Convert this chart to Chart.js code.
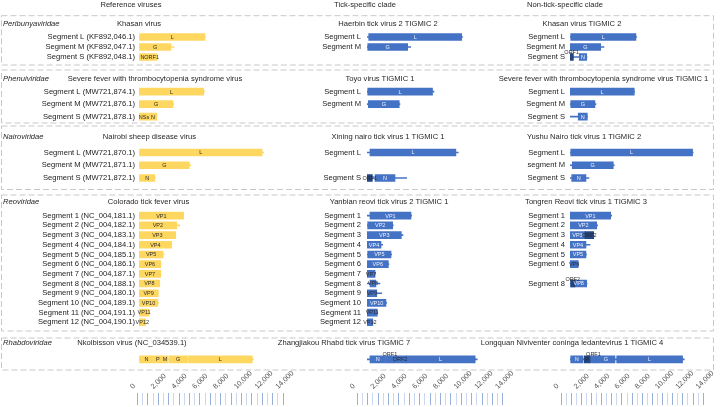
<!DOCTYPE html>
<html>
<head>
<meta charset="utf-8">
<title>Genome organisation of reference and TIGMIC viruses</title>
<script src="https://cdn.jsdelivr.net/npm/chart.js@4.4.1/dist/chart.umd.min.js"></script>
<style>
  html, body { margin: 0; padding: 0; background: #ffffff; }
  #stage { position: relative; width: 721px; height: 407px; overflow: hidden; font-family: 'Liberation Sans', Arial, sans-serif; color: #262626; }
  #stage canvas, #stage svg { position: absolute; left: 0; top: 0; }
  .lbl { position: absolute; white-space: nowrap; font-size: 7.6px; line-height: 1; transform: translate(-50%, -50%); }
  .fam { position: absolute; white-space: nowrap; font-size: 7.6px; line-height: 1; font-style: italic; transform: translateY(-50%); }
</style>
</head>
<body>
<div id="stage">
  <svg id="frames" width="721" height="407"></svg>
  <canvas id="col0" width="721" height="407"></canvas>
  <canvas id="col1" width="721" height="407"></canvas>
  <canvas id="col2" width="721" height="407"></canvas>
  <canvas id="axis0" width="721" height="407"></canvas>
  <canvas id="axis1" width="721" height="407"></canvas>
  <canvas id="axis2" width="721" height="407"></canvas>
</div>
<script>
// ================= DATA =================
const columnHeaders = ['Reference viruses', 'Tick-specific clade', 'Non-tick-specific clade'];
const families = ['Peribunyaviridae', 'Phenuiviridae', 'Nairoviridae', 'Reoviridae', 'Rhabdoviridae'];
const referenceViruses = ['Khasan virus', 'Severe fever with thrombocytopenia syndrome virus', 'Nairobi sheep disease virus', 'Colorado tick fever virus', 'Nkolbisson virus (NC_034539.1)'];
const tickCladeViruses = ['Haerbin tick virus 2 TIGMIC 2', 'Toyo virus TIGMIC 1', 'Xining nairo tick virus 1 TIGMIC 1', 'Yanbian reovi tick virus 2 TIGMIC 1', 'Zhangjiakou Rhabd tick virus TIGMIC 7'];
const nonTickCladeViruses = ['Khasan virus TIGMIC 2', 'Severe fever with thrombocytopenia syndrome virus TIGMIC 1', 'Yushu Nairo tick virus 1 TIGMIC 2', 'Tongren Reovi tick virus 1 TIGMIC 3', 'Longquan Niviventer coninga ledantevirus 1 TIGMIC 4'];
const axisTickLabels = [0, 2000, 4000, 6000, 8000, 10000, 12000, 14000];
const axisMinorStep = 500;
const axisMax = 14000;

// segment: [row slot, label, segment length (nt), ORFs [name, start, end, kind]]
// kind: 0 ORF, 1 overlapping ORF, 2 overlapping ORF labelled above, 3 ORF labelled above
const refPeribunya = [
  [0, 'Segment L (KF892,046.1)', 6450, [['L', 60, 6400]]],
  [1, 'Segment M (KF892,047.1)', 3400, [['G', 50, 3100]]],
  [2, 'Segment S (KF892,048.1)', 1800, [['N', 30, 650], ['ORF1', 700, 1750]]]
];
const refPhenui = [
  [0, 'Segment L (MW721,874.1)', 6368, [['L', 20, 6280]]],
  [1, 'Segment M (MW721,876.1)', 3378, [['G', 20, 3300]]],
  [2, 'Segment S (MW721,878.1)', 1744, [['NSs', 30, 930], ['N', 990, 1730]]]
];
const refNairo = [
  [0, 'Segment L (MW721,870.1)', 12100, [['L', 50, 11950]]],
  [1, 'Segment M (MW721,871.1)', 5020, [['G', 50, 4880]]],
  [2, 'Segment S (MW721,872.1)', 1590, [['N', 50, 1530]]]
];
const refReo = [
  [0, 'Segment 1 (NC_004,181.1)', 4350, [['VP1', 10, 4330]]],
  [1, 'Segment 2 (NC_004,182.1)', 3950, [['VP2', 10, 3660]]],
  [2, 'Segment 3 (NC_004,183.1)', 3586, [['VP3', 10, 3560]]],
  [3, 'Segment 4 (NC_004,184.1)', 3190, [['VP4', 10, 3160]]],
  [4, 'Segment 5 (NC_004,185.1)', 2432, [['VP5', 10, 2340]]],
  [5, 'Segment 6 (NC_004,186.1)', 2141, [['VP6', 10, 2110]]],
  [6, 'Segment 7 (NC_004,187.1)', 2133, [['VP7', 10, 2110]]],
  [7, 'Segment 8 (NC_004,188.1)', 2029, [['VP8', 10, 2010]]],
  [8, 'Segment 9 (NC_004,180.1)', 1884, [['VP9', 10, 1860]]],
  [9, 'Segment 10 (NC_004,189.1)', 1884, [['VP10', 10, 1830]]],
  [10, 'Segment 11 (NC_004,191.1)', 998, [['VP11', 10, 980]]],
  [11, 'Segment 12 (NC_004,190.1)', 675, [['VP12', 10, 640]]]
];
const refRhabdo = [
  [0, '', 11100, [['N', 50, 1400], ['P', 1450, 2200], ['M', 2250, 2800], ['G', 2900, 4700], ['L', 4800, 11000]]]
];

const tickPeribunya = [
  [0, 'Segment L', 9280, [['L', 165, 9190]]],
  [1, 'Segment M', 4240, [['G', 70, 3950]]]
];
const tickPhenui = [
  [0, 'Segment L', 6500, [['L', 70, 6360]]],
  [1, 'Segment M', 3200, [['G', 126, 3130]]]
];
const tickNairo = [
  [0, 'Segment L', 8860, [['L', 290, 8630]]],
  [2, 'Segment S', 3850, [['N', 780, 2720], ['ORF1', 20, 520, 1]]]
];
const tickReo = [
  [0, 'Segment 1', 4340, [['VP1', 290, 4270]]],
  [1, 'Segment 2', 2550, [['VP2', 65, 2490]]],
  [2, 'Segment 3', 3490, [['VP3', 30, 3330]]],
  [3, 'Segment 4', 1520, [['VP4', 0, 1360]]],
  [4, 'Segment 5', 2400, [['VP5', 65, 2330]]],
  [5, 'Segment 6', 2130, [['VP6', 30, 2070]]],
  [6, 'Segment 7', 800, [['VP7', 0, 780]]],
  [7, 'Segment 8', 1260, [['VP8', 290, 870]]],
  [8, 'Segment 9', 1430, [['VP9', 0, 950]]],
  [9, 'Segment 10', 1900, [['VP10', 30, 1840]]],
  [10, 'Segment 11', 1030, [['VP11', 0, 1000]]],
  [11, 'Segment 12', 600, [['VP12', 0, 560]]]
];
const tickRhabdo = [
  [0, '', 10700, [['N', 290, 1800], ['ORF1', 1850, 2600, 3], ['ORF2', 2600, 3800], ['L', 3800, 10500]]]
];

const nonTickPeribunya = [
  [0, 'Segment L', 6470, [['L', 70, 6400]]],
  [1, 'Segment M', 3300, [['G', 0, 2980]]],
  [2, 'Segment S', 1650, [['N', 900, 1620], ['ORF1', 0, 330, 2]]]
];
const nonTickPhenui = [
  [0, 'Segment L', 6270, [['L', 0, 6240]]],
  [1, 'Segment M', 2520, [['G', 70, 2420]]],
  [2, 'Segment S', 1700, [['N', 800, 1680]]]
];
const nonTickNairo = [
  [0, 'Segment L', 11960, [['L', 70, 11900]]],
  [1, 'segment M', 4300, [['G', 220, 4200]]],
  [2, 'Segment S', 1840, [['N', 165, 1550]]]
];
const nonTickReo = [
  [0, 'Segment 1', 4050, [['VP1', 0, 3950]]],
  [1, 'Segment 2', 2680, [['VP2', 0, 2590]]],
  [2, 'Segment 3', 2300, [['VP3', 0, 1450], ['ORF2', 1450, 2300, 1]]],
  [3, 'Segment 4', 1940, [['VP4', 0, 1550]]],
  [4, 'Segment 5', 1600, [['VP5', 0, 1550]]],
  [5, 'Segment 6', 850, [['VP6', 0, 800]]],
  [7, 'Segment 8', 1650, [['VP8', 70, 1620], ['ORF2', 70, 480, 2]]]
];
const nonTickRhabdo = [
  [0, '', 11100, [['N', 70, 1230], ['P', 1360, 1940, 1], ['ORF1', 1950, 2600, 3], ['G', 2600, 4370], ['L', 4530, 10930]]]
];

const referenceColumn = [refPeribunya, refPhenui, refNairo, refReo, refRhabdo];
const tickColumn = [tickPeribunya, tickPhenui, tickNairo, tickReo, tickRhabdo];
const nonTickColumn = [nonTickPeribunya, nonTickPhenui, nonTickNairo, nonTickReo, nonTickRhabdo];

// ================= LAYOUT & STYLE =================
const FONT = "'Liberation Sans', Arial, sans-serif";
const BANDS = [[12, 70], [70, 125], [125, 192], [192, 336], [336, 372]];
const FIRST_ROW = [37, 91.7, 152.5, 215.7, 359.3];
const ROW_STEP = [10, 12.5, 12.75, 9.69, 10];
const TITLE_Y = [24, 79, 137.3, 201.5, 342.7];
const HEADER_Y = 4.5;
const FRAMES = [[15.7, 65], [70, 123], [126, 189.5], [195, 331], [338, 370]];
const YELLOW = '#FED760', BLUE = '#4472C4', ALT_BLUE = '#24457F';
const DARK_TEXT = '#2b2b2b', LIGHT_TEXT = '#EEF3FC';
const COLS = [
  { data: referenceColumn, titles: referenceViruses, plot: [139, 283.2], yw: 135, pad: 4, axis: [137.5, 283], headerX: 131, titleX: [139, 155, 149.5, 148.5, 132], fill: YELLOW, labelLight: null },
  { data: tickColumn, titles: tickCladeViruses, plot: [367, 511.2], yw: 60, pad: 6, axis: [357.3, 502.8], headerX: 365, titleX: [388, 380, 388, 389, 344], fill: BLUE, labelLight: LIGHT_TEXT },
  { data: nonTickColumn, titles: nonTickCladeViruses, plot: [570, 714.2], yw: 60, pad: 5, axis: [561, 705.5], headerX: 565, titleX: [582, 603.5, 584, 586, 572], fill: BLUE, labelLight: LIGHT_TEXT }
];

// ================= FRAMES & TEXT =================
const svg = document.getElementById('frames');
FRAMES.forEach(([t, b]) => {
  const r = document.createElementNS('http://www.w3.org/2000/svg', 'rect');
  r.setAttribute('x', 1.5); r.setAttribute('y', t);
  r.setAttribute('width', 712); r.setAttribute('height', b - t);
  r.setAttribute('fill', 'none'); r.setAttribute('stroke', '#c8c8c8');
  r.setAttribute('stroke-width', 1); r.setAttribute('stroke-dasharray', '6 3');
  svg.appendChild(r);
});
const stage = document.getElementById('stage');
function addText(cls, txt, x, y) {
  const d = document.createElement('div');
  d.className = cls; d.textContent = txt;
  d.style.left = x + 'px'; d.style.top = y + 'px';
  stage.appendChild(d);
}
COLS.forEach((col, c) => {
  addText('lbl', columnHeaders[c], col.headerX, HEADER_Y);
  col.titles.forEach((t, p) => addText('lbl', t, col.titleX[p], TITLE_Y[p]));
});
families.forEach((f, p) => addText('fam', f, 3, TITLE_Y[p]));

// ================= CHARTS =================
const LABEL_SIZE = 5.5;
const orfLabelPlugin = {
  id: 'orfLabels',
  afterDatasetsDraw(chart) {
    const ctx = chart.ctx;
    chart.data.datasets.forEach((ds, di) => {
      if (!ds.orfNames) return;
      const meta = chart.getDatasetMeta(di);
      ctx.save();
      ctx.font = LABEL_SIZE + 'px ' + FONT;
      ctx.textAlign = 'center';
      ctx.textBaseline = 'middle';
      meta.data.forEach((el, i) => {
        const name = ds.orfNames[i], kind = ds.orfKinds[i];
        const x0 = Math.min(el.x, el.base), x1 = Math.max(el.x, el.base);
        const w = ctx.measureText(name).width;
        let color = DARK_TEXT;
        if (ds.labelLight && kind === 0 && w <= x1 - x0 - 2) color = ds.labelLight;
        ctx.fillStyle = color;
        const dy = (kind === 2 || kind === 3) ? -4.5 : 0.3;
        ctx.fillText(name, (x0 + x1) / 2, el.y + dy);
      });
      ctx.restore();
    });
  }
};

function buildColumn(canvasId, col) {
  const datasets = [];
  const scales = { x: { type: 'linear', min: 0, max: axisMax, display: false } };
  col.data.forEach((segs, p) => {
    const id = 'p' + p;
    const [top, bottom] = BANDS[p];
    const r0 = FIRST_ROW[p], s = ROW_STEP[p];
    const names = {};
    segs.forEach(sg => { names[sg[0]] = sg[1]; });
    const nRows = Math.max(...segs.map(sg => sg[0])) + 1;
    scales[id] = {
      type: 'linear', position: 'left', stack: 'rows', stackWeight: bottom - top, weight: 10 - p,
      reverse: true, offset: false, min: -(r0 - top) / s, max: (bottom - r0) / s,
      grid: { display: false, drawTicks: false, offset: false }, border: { display: false },
      afterBuildTicks: sc => { sc.ticks = Array.from({ length: nRows }, (_, i) => ({ value: i })); },
      afterFit: sc => { sc.width = col.yw; },
      ticks: { autoSkip: false, padding: col.pad, color: '#222222', font: { family: FONT, size: 7.6 },
               callback: v => names[v] || '' }
    };
    datasets.push({
      type: 'bar', yAxisID: id, xAxisID: 'x', order: 2, grouped: false, barThickness: 1,
      backgroundColor: col.fill, borderWidth: 0,
      data: segs.map(sg => ({ x: [0, sg[2]], y: sg[0] }))
    });
    const orfs = [];
    segs.forEach(sg => sg[3].forEach(o => orfs.push({ row: sg[0], name: o[0], s: o[1], e: o[2], kind: o[3] || 0 })));
    const isAlt = o => (o.kind === 1 || o.kind === 2) ? 1 : 0;
    orfs.sort((a, b) => isAlt(a) - isAlt(b));
    datasets.push({
      type: 'bar', yAxisID: id, xAxisID: 'x', order: 1, grouped: false, barThickness: 7,
      backgroundColor: orfs.map(o => (isAlt(o) && col.labelLight) ? ALT_BLUE : col.fill),
      borderWidth: 0,
      data: orfs.map(o => ({ x: [o.s, o.e], y: o.row })),
      orfNames: orfs.map(o => o.name), orfKinds: orfs.map(o => o.kind), labelLight: col.labelLight
    });
  });
  new Chart(document.getElementById(canvasId), {
    type: 'bar',
    data: { datasets },
    options: {
      indexAxis: 'y', responsive: false, animation: false, devicePixelRatio: 1,
      layout: { padding: { left: col.plot[0] - col.yw, right: 721 - col.plot[1], top: BANDS[0][0], bottom: 407 - BANDS[4][1] } },
      plugins: { legend: { display: false }, tooltip: { enabled: false } },
      scales
    },
    plugins: [orfLabelPlugin]
  });
}

function buildAxis(canvasId, range) {
  new Chart(document.getElementById(canvasId), {
    type: 'scatter',
    data: { datasets: [] },
    options: {
      responsive: false, animation: false, devicePixelRatio: 1,
      layout: { padding: { left: range[0], right: 721 - range[1], top: 363, bottom: 2 } },
      plugins: { legend: { display: false }, tooltip: { enabled: false } },
      scales: {
        x: {
          type: 'linear', position: 'top', min: 0, max: axisMax,
          afterBuildTicks: sc => {
            const t = [];
            for (let v = 0; v <= axisMax; v += axisMinorStep) t.push({ value: v });
            sc.ticks = t;
          },
          afterFit: sc => { sc.height = 30; },
          grid: { drawTicks: false, lineWidth: 1,
                  color: c => (c.tick && c.tick.value % 1000 === 0) ? '#98b1da' : '#cad7ee' },
          border: { display: false },
          ticks: { autoSkip: false, minRotation: 45, maxRotation: 45, padding: 2, color: '#555555',
                   font: { family: FONT, size: 7.3 },
                   callback: v => axisTickLabels.includes(v) ? v.toLocaleString('en-US') : '' }
        },
        y: { display: false, min: 0, max: 1 }
      }
    }
  });
}

COLS.forEach((col, c) => {
  buildColumn('col' + c, col);
  buildAxis('axis' + c, col.axis);
});
</script>
</body>
</html>
